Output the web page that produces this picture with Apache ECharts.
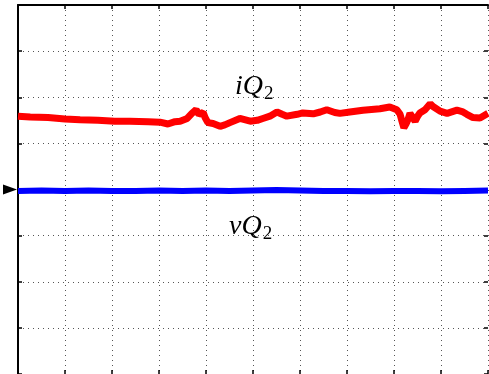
<!DOCTYPE html>
<html><head><meta charset="utf-8">
<script src="https://cdn.jsdelivr.net/npm/echarts@6/dist/echarts.min.js"></script>
<style>html,body{margin:0;padding:0;background:#fff}#c{width:489px;height:374px}</style>
</head><body><div id="c"></div>
<script>
// Time axis in divisions (0..10), amplitude in divisions (-4..4)
const xTicks = [0,1,2,3,4,5,6,7,8,9,10];
const iQ2_t = [0,0.26,0.64,1.0,1.32,1.70,2.06,2.38,2.77,3.02,3.19,3.34,3.45,3.60,3.70,3.79,3.85,3.87,3.94,3.98,4.04,4.15,4.30,4.40,4.51,4.72,4.94,5.09,5.21,5.36,5.51,5.62,5.72,5.94,6.06,6.28,6.43,6.57,6.74,6.85,7.06,7.34,7.70,7.91,8.06,8.13,8.17,8.21,8.26,8.30,8.34,8.38,8.45,8.51,8.55,8.66,8.77,8.83,8.87,8.98,9.13,9.34,9.45,9.55,9.68,9.83,10];
const iQ2_v = [1.59,1.57,1.56,1.53,1.51,1.50,1.48,1.48,1.47,1.46,1.42,1.47,1.48,1.54,1.65,1.73,1.63,1.59,1.67,1.56,1.45,1.43,1.37,1.40,1.45,1.54,1.48,1.50,1.54,1.59,1.68,1.63,1.59,1.63,1.66,1.64,1.68,1.73,1.67,1.65,1.68,1.72,1.75,1.79,1.73,1.63,1.48,1.34,1.43,1.52,1.65,1.59,1.48,1.60,1.66,1.73,1.86,1.80,1.82,1.70,1.65,1.72,1.69,1.63,1.56,1.55,1.65];
const vQ2_t = [0,0.5,1,1.5,2,2.5,3,3.5,4,4.5,5,5.5,6,6.5,7,7.5,8,8.5,9,9.5,10];
const vQ2_v = [-0.03,-0.02,-0.03,-0.02,-0.03,-0.03,-0.02,-0.03,-0.02,-0.03,-0.02,-0.01,-0.02,-0.03,-0.03,-0.04,-0.03,-0.03,-0.04,-0.03,-0.02];
const labels = ['iQ2','vQ2'];

const pair = (t,v)=>t.map((x,i)=>[x,v[i]]);
const chart = echarts.init(document.getElementById('c'));
const dotted = {show:true, lineStyle:{color:'#555', width:1, type:[1,4]}};
const xa = (pos)=>({type:'value', min:0, max:10, interval:1, position:pos,
  axisLine:{show:pos==='top', onZero:false, lineStyle:{color:'#000', width:2}},
  axisTick:{show:true, inside:true, length:4, lineStyle:{color:'#000', width:1.5}},
  axisLabel:{show:false}, splitLine: pos==='bottom'?dotted:{show:false}});
const ya = (pos)=>({type:'value', min:-4, max:4, interval:1, position:pos,
  axisLine:{show:pos==='left', onZero:false, lineStyle:{color:'#000', width:2}},
  axisTick:{show:true, inside:true, length:4, lineStyle:{color:'#000', width:1.5}},
  axisLabel:{show:false}, splitLine: pos==='left'?dotted:{show:false}});
const rich = {
  m:{fontFamily:'Liberation Serif', fontStyle:'italic', fontSize:28, color:'#000'},
  s:{fontFamily:'Liberation Serif', fontSize:19, color:'#000', padding:[14,0,0,1]}
};
chart.setOption({
  animation:false,
  backgroundColor:'#fff',
  grid:{left:18, top:5, width:470, height:370},
  xAxis:[xa('bottom'), xa('top')],
  yAxis:[ya('left'), ya('right')],
  series:[
    {type:'line', data:pair(iQ2_t,iQ2_v), showSymbol:false, smooth:false,
     lineStyle:{color:'#ff0000', width:7}},
    {type:'line', data:pair(vQ2_t,vQ2_v), showSymbol:false,
     lineStyle:{color:'#0000ff', width:6},
     markPoint:{symbol:'triangle', symbolSize:[10,14], symbolRotate:-90, symbolOffset:[-8,0],
       itemStyle:{color:'#000'}, label:{show:false},
       data:[{coord:[0,0]}]}}
  ],
  graphic:[
    {type:'text', left:235, top:73, style:{text:'{m|'+labels[0].slice(0,2)+'}{s|'+labels[0].slice(2)+'}', rich:rich}},
    {type:'text', left:229, top:213, style:{text:'{m|'+labels[1].slice(0,2)+'}{s|'+labels[1].slice(2)+'}', rich:rich}}
  ]
});
</script></body></html>
